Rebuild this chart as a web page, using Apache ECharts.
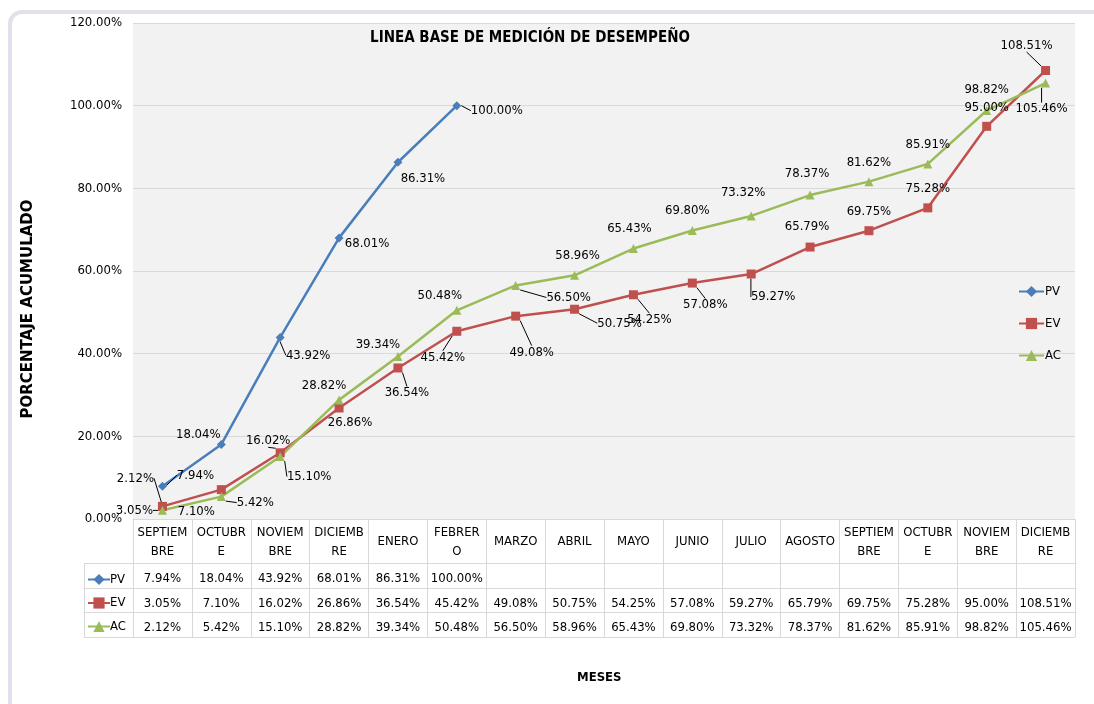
<!DOCTYPE html>
<html><head><meta charset="utf-8">
<script src="https://cdn.jsdelivr.net/npm/echarts@6/dist/echarts.min.js"></script>
<style>html,body{margin:0;padding:0;background:#fff;}#c{width:1094px;height:704px;}</style>
</head><body><div id="c"></div>
<script>
const categories = ['SEPTIEM\nBRE','OCTUBR\nE','NOVIEM\nBRE','DICIEMB\nRE','ENERO','FEBRER\nO','MARZO','ABRIL','MAYO','JUNIO','JULIO','AGOSTO','SEPTIEM\nBRE','OCTUBR\nE','NOVIEM\nBRE','DICIEMB\nRE'];
const pv = [7.94, 18.04, 43.92, 68.01, 86.31, 100.00];
const ev = [3.05, 7.10, 16.02, 26.86, 36.54, 45.42, 49.08, 50.75, 54.25, 57.08, 59.27, 65.79, 69.75, 75.28, 95.00, 108.51];
const ac = [2.12, 5.42, 15.10, 28.82, 39.34, 50.48, 56.50, 58.96, 65.43, 69.80, 73.32, 78.37, 81.62, 85.91, 98.82, 105.46];
const yTicks = [0, 20, 40, 60, 80, 100, 120];

// label placement (presentation only): [dx, dy, leaderLine]
const pvLab = [[33,-11,1],[-23,-10,0],[28,18,1],[28,6,0],[25,16,0],[40,5,1]];
const evLab = [[-28,4,1],[-25,22,0],[-12,-12,1],[11,15,0],[9,25,1],[-14,26,1],[16,36,1],[45,14,1],[16,25,1],[13,22,1],[22,23,1],[-3,-20,0],[0,-19,0],[0,-19,0],[0,-19,0],[-19,-25,1]];
const acLab = [[-27,-32,1],[34,6,1],[29,20,1],[-15,-14,0],[-20,-12,0],[-17,-15,0],[53,12,1],[3,-20,0],[-4,-20,0],[-5,-20,0],[-8,-23,0],[-3,-21,0],[0,-19,0],[0,-19,0],[0,-21,0],[-4,26,1]];
const labs = [pvLab, evLab, acLab];

const FONT = "'Liberation Sans Narrow','Arial Narrow','DejaVu Sans Condensed',sans-serif";
const fmt = v => (v === undefined || v === null) ? '' : v.toFixed(2) + '%';

const chart = echarts.init(document.getElementById('c'), null, {renderer:'canvas'});
const gridLeft = 133, gridRight = 19, gridTop = 23, gridBottom = 185;
const rowOffsets = [0, 44, 69, 93, 118];
const rowH = [44, 25, 24, 25];
const lineCol = '#d9d9d9';

function makeItems(vals, li) {
  return vals.map((v, i) => ({
    value: v,
    labelLine: {show: !!labs[li][i][2]}
  }));
}

function rowAxis(idx, formatter) {
  return {
    type: 'category', gridIndex: 0, position: 'bottom', offset: rowOffsets[idx],
    data: categories, boundaryGap: true,
    axisLine: {show: true, lineStyle: {color: lineCol, width: 1}},
    axisTick: {show: idx < 4, length: rowH[idx] || 0, interval: 0, lineStyle: {color: lineCol}},
    axisLabel: {show: idx < 4, interval: 0, formatter: formatter, color: '#000', fontFamily: FONT, fontSize: 13,
      margin: idx === 0 ? 4 : 6,
      rich: {s: {lineHeight: 38, fontFamily: FONT, fontSize: 13, color: '#000'}}, lineHeight: 19},
    splitLine: {show: false}
  };
}

const seriesBase = (name, vals, li, color, symbol, size) => ({
  name: name, type: 'line', xAxisIndex: 0, data: makeItems(vals, li),
  symbol: symbol, symbolSize: size,
  lineStyle: {color: color, width: 2.5}, itemStyle: {color: color},
  label: {show: true, position: 'inside', formatter: p => fmt(p.value), color: '#000', fontFamily: FONT, fontSize: 13},
  labelLine: {show: false, lineStyle: {color: '#000', width: 1}, length2: 0},
  labelLayout: function (p) {
    const o = labs[li][p.dataIndex];
    return {dx: o[0], dy: o[1]};
  },
  emphasis: {disabled: true},
  animation: false
});

const option = {
  backgroundColor: '#fff',
  animation: false,
  title: {text: 'LINEA BASE DE MEDICIÓN DE DESEMPEÑO', left: 525, top: 26, textAlign: 'center',
    textStyle: {fontFamily: FONT, fontWeight: 'bold', fontSize: 15, color: '#000'}},
  legend: [
    {orient: 'vertical', left: 1013, top: 280, itemGap: 19, itemWidth: 25, itemHeight: 14,
     data: ['PV','EV','AC'], textStyle: {fontFamily: FONT, fontSize: 13, color: '#000', padding: [0,0,0,-4]}, selectedMode: false},
    {orient: 'vertical', left: 82, top: 568, itemGap: 10.5, itemWidth: 22, itemHeight: 14,
     data: ['PV','EV','AC'], textStyle: {fontFamily: FONT, fontSize: 13, color: '#000', padding: [0,0,0,-5]}, selectedMode: false}
  ],
  grid: {left: gridLeft, right: gridRight, top: gridTop, bottom: gridBottom, show: true, backgroundColor: '#f2f2f2', borderWidth: 0},
  xAxis: [
    rowAxis(0, v => v.indexOf('\n') >= 0 ? v : '{s|' + v + '}'),
    rowAxis(1, (v, i) => fmt(pv[i])),
    rowAxis(2, (v, i) => fmt(ev[i])),
    rowAxis(3, (v, i) => fmt(ac[i])),
    rowAxis(4, () => '')
  ],
  yAxis: {
    type: 'value', min: yTicks[0], max: yTicks[yTicks.length - 1], interval: yTicks[1] - yTicks[0],
    axisLine: {show: false}, axisTick: {show: false},
    axisLabel: {formatter: v => v.toFixed(2) + '%', fontFamily: FONT, fontSize: 13, color: '#000', margin: 11},
    splitLine: {lineStyle: {color: lineCol, width: 1}}
  },
  graphic: [
    {type: 'rect', shape: {x: 10, y: 12, width: 1100, height: 720, r: 12}, style: {fill: null, stroke: '#e4dfec', lineWidth: 4}, z: -10, silent: true},
    {type: 'text', x: 28, y: 309, rotation: Math.PI / 2,
     style: {text: 'PORCENTAJE ACUMULADO', font: "bold 15px 'DejaVu Sans',sans-serif", fill: '#000', align: 'center', verticalAlign: 'middle'}},
    {type: 'text', left: 577, top: 671, style: {text: 'MESES', font: "bold 13px " + FONT, fill: '#000'}},
    {type: 'line', shape: {x1: 84.5, y1: 563, x2: 84.5, y2: 637}, style: {stroke: lineCol, lineWidth: 1}},
    {type: 'line', shape: {x1: 84, y1: 563.5, x2: 133, y2: 563.5}, style: {stroke: lineCol, lineWidth: 1}},
    {type: 'line', shape: {x1: 84, y1: 588.5, x2: 133, y2: 588.5}, style: {stroke: lineCol, lineWidth: 1}},
    {type: 'line', shape: {x1: 84, y1: 612.5, x2: 133, y2: 612.5}, style: {stroke: lineCol, lineWidth: 1}},
    {type: 'line', shape: {x1: 84, y1: 637.5, x2: 133, y2: 637.5}, style: {stroke: lineCol, lineWidth: 1}}
  ],
  series: [
    seriesBase('PV', pv, 0, '#4a7ebb', 'diamond', 9),
    seriesBase('EV', ev, 1, '#c0504d', 'rect', 9),
    seriesBase('AC', ac, 2, '#9bbb59', 'triangle', 9)
  ]
};
chart.setOption(option);
</script></body></html>
